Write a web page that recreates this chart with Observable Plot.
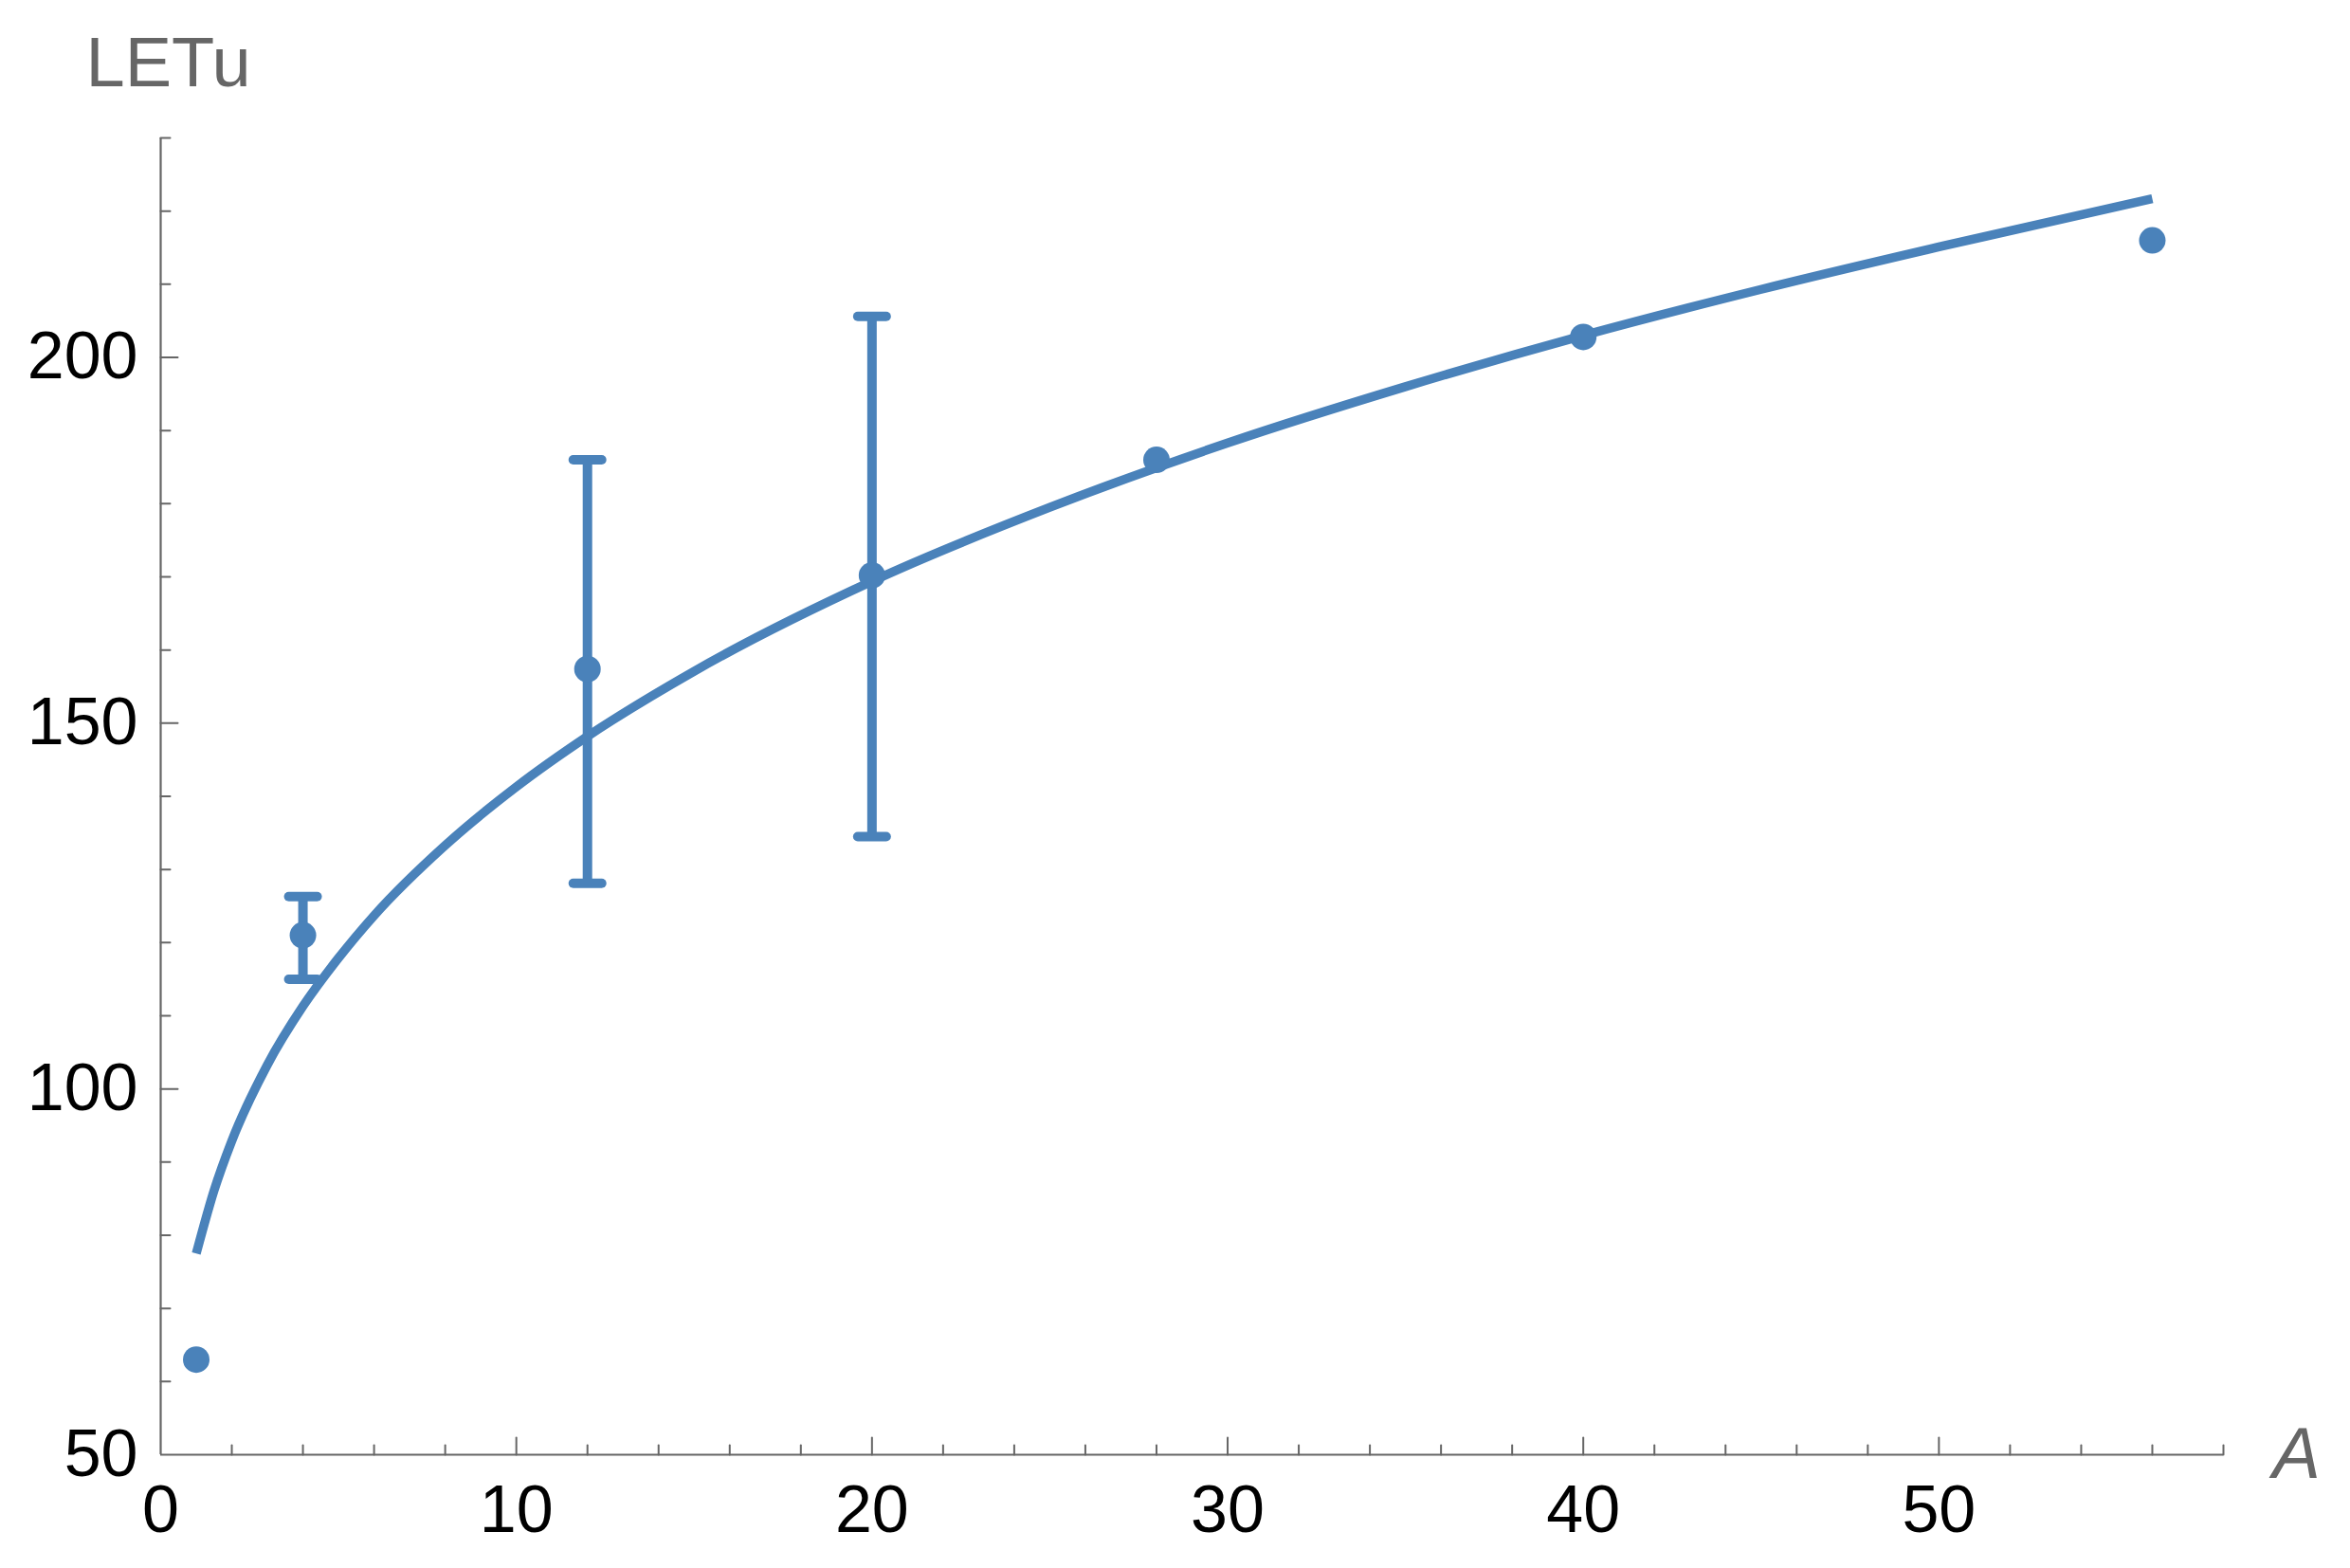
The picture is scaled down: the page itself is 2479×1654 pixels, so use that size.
<!DOCTYPE html>
<html><head><meta charset="utf-8">
<script src="https://cdn.jsdelivr.net/npm/d3@7"></script>
<script src="https://cdn.jsdelivr.net/npm/@observablehq/plot@0.6"></script>
<style>html,body{margin:0;padding:0;background:#fff;}</style>
</head><body><div id="chart"></div>
<script>
// measured points
const massNumbers = [1, 4, 12, 20, 28, 40, 56];
const letuValues = [63, 121, 157.4, 170.2, 186, 202.8, 216];
// error bars
const errorA = [4, 12, 20];
const errorLow = [115, 128.1, 134.5];
const errorHigh = [126.3, 186, 205.6];
// fitted curve
const fitA = [1, 1.5, 2, 3, 4, 5, 6, 8, 10, 12, 15, 20, 25, 30, 35, 40, 45, 50, 56];
const fitLETu = [77.5, 86.1, 92.9, 103.3, 111.3, 117.9, 123.7, 133.3, 141.3, 148.2, 157.1, 169.4, 179.5, 188.3, 196.0, 203.0, 209.3, 215.1, 221.7];
// ticks
const xMajorTicks = [0, 10, 20, 30, 40, 50];
const xMinorTicks = [2, 4, 6, 8, 12, 14, 16, 18, 22, 24, 26, 28, 32, 34, 36, 38, 42, 44, 46, 48, 52, 54, 56, 58];
const yMajorTicks = [50, 100, 150, 200];
const yMinorTicks = [60, 70, 80, 90, 110, 120, 130, 140, 160, 170, 180, 190, 210, 220, 230];

const points = massNumbers.map((a, i) => ({A: a, LETu: letuValues[i]}));
const errors = errorA.map((a, i) => ({A: a, lo: errorLow[i], hi: errorHigh[i]}));
const fit = fitA.map((a, i) => ({A: a, LETu: fitLETu[i]}));

const blue = "#4a82ba";
const axisGray = "#666666";
const lineShape = {draw(context, l) { context.moveTo(0, 0); context.lineTo(0, -l); }};

const chart = Plot.plot({
  width: 2479,
  height: 1654,
  marginLeft: 169,
  marginRight: 134,
  marginTop: 145,
  marginBottom: 120,
  style: {fontFamily: "'Liberation Sans', Arial, sans-serif", background: "white"},
  x: {domain: [0, 58], axis: null},
  y: {domain: [50, 230], axis: null},
  marks: [
    // axis lines
    Plot.ruleY([50], {x1: 0, x2: 58, stroke: axisGray, strokeWidth: 2.2}),
    Plot.ruleX([0], {y1: 50, y2: 230, stroke: axisGray, strokeWidth: 2.2}),
    // x ticks (inward)
    Plot.vector(xMajorTicks.filter(d => d !== 0), {x: d => d, y: 50, rotate: 0, length: 18, anchor: "start", shape: lineShape, stroke: axisGray, strokeWidth: 2}),
    Plot.vector(xMinorTicks, {x: d => d, y: 50, rotate: 0, length: 10, anchor: "start", shape: lineShape, stroke: axisGray, strokeWidth: 2}),
    // y ticks (inward)
    Plot.vector(yMajorTicks.filter(d => d !== 50), {x: 0, y: d => d, rotate: 90, length: 18, anchor: "start", shape: lineShape, stroke: axisGray, strokeWidth: 2}),
    Plot.vector(yMinorTicks, {x: 0, y: d => d, rotate: 90, length: 10, anchor: "start", shape: lineShape, stroke: axisGray, strokeWidth: 2}),
    // tick labels
    Plot.text(xMajorTicks, {x: d => d, y: 50, text: d => String(d), lineAnchor: "top", dy: 32, fontSize: 70, fill: "black"}),
    Plot.text(yMajorTicks, {x: 0, y: d => d, text: d => String(d), textAnchor: "end", dx: -24, fontSize: 70, fill: "black"}),
    // axis labels
    Plot.text(["LETu"], {frameAnchor: "top-left", dx: -79, dy: -55, textAnchor: "start", lineAnchor: "bottom", fontSize: 74, fill: axisGray}),
    Plot.text(["A"], {frameAnchor: "bottom-right", dx: 77, textAnchor: "middle", lineAnchor: "middle", fontSize: 76, fontStyle: "italic", fill: axisGray}),
    // fitted curve
    Plot.line(fit, {x: "A", y: "LETu", curve: "monotone-x", stroke: blue, strokeWidth: 9.5, strokeLinecap: "butt"}),
    // error bars
    Plot.ruleX(errors, {x: "A", y1: "lo", y2: "hi", stroke: blue, strokeWidth: 10, strokeLinecap: "butt"}),
    Plot.vector(errors, {x: "A", y: "lo", rotate: 90, length: 30, anchor: "middle", shape: lineShape, stroke: blue, strokeWidth: 10}),
    Plot.vector(errors, {x: "A", y: "hi", rotate: 90, length: 30, anchor: "middle", shape: lineShape, stroke: blue, strokeWidth: 10}),
    // points
    Plot.dot(points, {x: "A", y: "LETu", r: 14, fill: blue, stroke: "none"})
  ]
});
document.getElementById("chart").appendChild(chart);
</script>
</body></html>
